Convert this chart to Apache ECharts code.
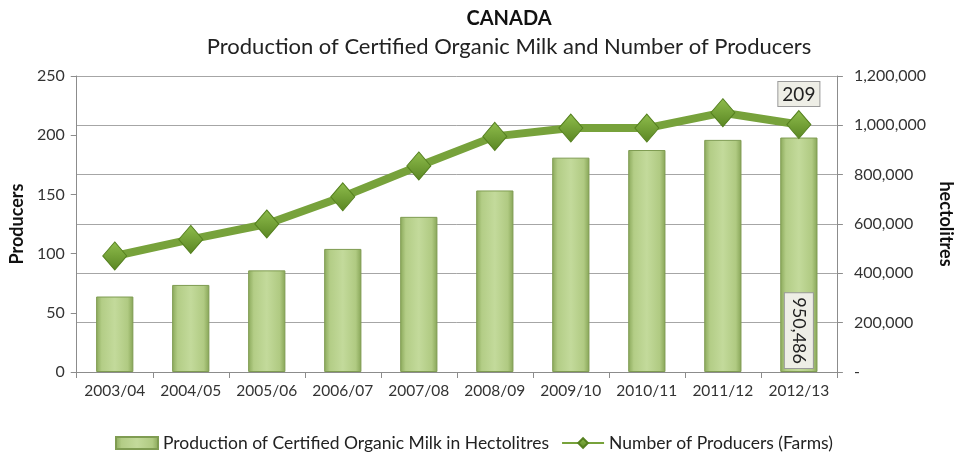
<!DOCTYPE html>
<html><head><meta charset="utf-8">
<script src="https://cdn.jsdelivr.net/npm/echarts@6/dist/echarts.min.js"></script>
<style>html,body{margin:0;padding:0;background:#fff}#c{width:963px;height:459px}</style>
</head><body><div id="c"></div>
<script>
const categories = ['2003/04','2004/05','2005/06','2006/07','2007/08','2008/09','2009/10','2010/11','2011/12','2012/13'];
const milkHectolitres = [306000, 353000, 412000, 499000, 629000, 736000, 869000, 900000, 941000, 950486];
const producers = [98, 112, 125, 148, 174, 199, 206, 206, 219, 209];
const leftTicks = {min: 0, max: 250, interval: 50};
const rightTicks = {min: 0, max: 1200000, interval: 200000};

const FONT = 'Lato';
const chart = echarts.init(document.getElementById('c'));
const last = categories.length - 1;

chart.setOption({
  animation: false,
  textStyle: {fontFamily: FONT},
  title: [
    {text: 'CANADA', left: 504, top: 4, textAlign: 'center',
     textStyle: {fontFamily: FONT, fontSize: 20, fontWeight: 'bold', color: '#111'}},
    {text: 'Production of Certified Organic Milk and Number of Producers', left: 504, top: 31, textAlign: 'center',
     textStyle: {fontFamily: FONT, fontSize: 22, fontWeight: 'normal', color: '#222'}}
  ],
  grid: {left: 76, right: 106, top: 76, bottom: 87},
  legend: {
    top: 429, left: 110, itemGap: 12, itemWidth: 42, itemHeight: 12,
    textStyle: {fontFamily: FONT, fontSize: 17.5, color: '#222'},
    data: [
      {name: 'Production of Certified Organic Milk in Hectolitres', icon: 'rect'},
      {name: 'Number of Producers (Farms)'}
    ]
  },
  xAxis: {
    type: 'category', data: categories, boundaryGap: true,
    axisLine: {lineStyle: {color: '#8c8c8c'}},
    axisTick: {show: true, alignWithLabel: false, interval: 0, length: 6, lineStyle: {color: '#8c8c8c'}},
    axisLabel: {interval: 0, hideOverlap: false, fontFamily: FONT, fontSize: 15.5, color: '#333', margin: 11}
  },
  yAxis: [
    {type: 'value', min: leftTicks.min, max: leftTicks.max, interval: leftTicks.interval,
     name: 'Producers', nameLocation: 'middle', nameGap: 50, nameRotate: 90,
     nameTextStyle: {fontFamily: FONT, fontSize: 18, fontWeight: 'bold', color: '#111'},
     axisLine: {show: true, lineStyle: {color: '#8c8c8c'}},
     axisTick: {show: true, length: 6, lineStyle: {color: '#8c8c8c'}},
     splitLine: {show: false},
     axisLabel: {fontFamily: FONT, fontSize: 16, color: '#333', margin: 12}},
    {type: 'value', min: rightTicks.min, max: rightTicks.max, interval: rightTicks.interval,
     position: 'right',
     name: 'hectolitres', nameLocation: 'middle', nameGap: 88, nameRotate: -90,
     nameTextStyle: {fontFamily: FONT, fontSize: 18, fontWeight: 'bold', color: '#111'},
     axisLine: {show: true, lineStyle: {color: '#8c8c8c'}},
     axisTick: {show: true, length: 6, lineStyle: {color: '#8c8c8c'}},
     splitLine: {show: true, lineStyle: {color: '#a6a6a6', width: 1}},
     axisLabel: {fontFamily: FONT, fontSize: 16, color: '#333', margin: 17,
       formatter: v => v === 0 ? '-' : v.toLocaleString('en-US')}}
  ],
  series: [
    {
      name: 'Production of Certified Organic Milk in Hectolitres',
      type: 'bar', yAxisIndex: 1, barWidth: '49%',
      itemStyle: {
        color: new echarts.graphic.LinearGradient(0, 0, 1, 0, [
          {offset: 0, color: '#8aa85a'},
          {offset: 0.15, color: '#b3cd86'},
          {offset: 0.5, color: '#c3da9b'},
          {offset: 0.85, color: '#b0ca82'},
          {offset: 1, color: '#86a456'}
        ]),
        borderColor: '#7f9c52', borderWidth: 1
      },
      data: milkHectolitres.map((v, i) => i === last ? {
        value: v,
        label: {show: true, position: 'insideBottom', rotate: -90, align: 'right', verticalAlign: 'middle',
          distance: 4, fontFamily: FONT, fontSize: 18, color: '#222',
          backgroundColor: '#eeeee6', borderColor: '#9a9a9a', borderWidth: 1, padding: [5, 4, 5, 4],
          formatter: p => p.value.toLocaleString('en-US')}
      } : v)
    },
    {
      name: 'Number of Producers (Farms)',
      type: 'line', yAxisIndex: 0, z: 5,
      symbol: 'diamond', symbolSize: [24, 28],
      lineStyle: {color: '#77a23b', width: 8},
      itemStyle: {
        color: new echarts.graphic.LinearGradient(0, 0, 0, 1, [
          {offset: 0, color: '#8fbd4c'},
          {offset: 1, color: '#5a8623'}
        ]),
        borderColor: '#55801f', borderWidth: 1
      },
      data: producers.map((v, i) => i === last ? {
        value: v,
        label: {show: true, position: 'top', distance: 4, fontFamily: FONT, fontSize: 19, color: '#222',
          backgroundColor: '#eeeee6', borderColor: '#9a9a9a', borderWidth: 1, padding: [3, 4, 2, 4]}
      } : v)
    }
  ]
});
</script></body></html>
